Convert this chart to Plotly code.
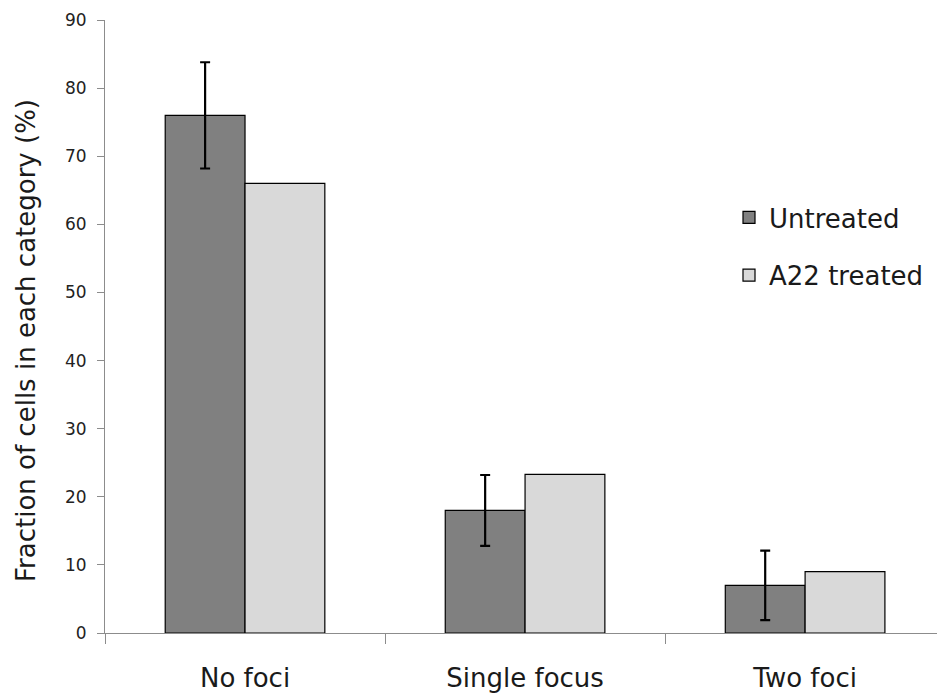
import plotly.graph_objects as go

categories = ["No foci", "Single focus", "Two foci"]
untreated = [76, 18, 7]
untreated_err = [7.8, 5.2, 5.1]
a22_treated = [66, 23.3, 9]
y_ticks = [0, 10, 20, 30, 40, 50, 60, 70, 80, 90]

FONT = "DejaVu Sans"
W, H = 937, 695
ML, MT, MB, MR = 105, 20, 62, 0

fig = go.Figure()
fig.add_trace(go.Bar(
    x=categories, y=untreated, name="Untreated",
    marker=dict(color="#808080", line=dict(color="#000000", width=1.2)),
    error_y=dict(type="data", array=untreated_err, visible=True,
                 color="#000000", thickness=2.2, width=5),
    legendgroup="u",
))
fig.add_trace(go.Bar(
    x=categories, y=a22_treated, name="A22 treated",
    marker=dict(color="#d9d9d9", line=dict(color="#000000", width=1.2)),
    legendgroup="a",
))

plot_w = W - ML - MR
plot_h = H - MT - MB
fig.update_layout(
    width=W, height=H,
    margin=dict(l=ML, r=MR, t=MT, b=MB, pad=0),
    paper_bgcolor="white", plot_bgcolor="white",
    barmode="group", bargap=0.43, bargroupgap=0,
    font=dict(family=FONT, color="#222222"),
    showlegend=True,
    legend=dict(
        x=(729 - ML) / plot_w, y=(H - MB - 194) / plot_h,
        xanchor="left", yanchor="top",
        font=dict(size=26, family=FONT, color="#1a1a1a"),
        tracegroupgap=21, itemwidth=30,
        bgcolor="rgba(0,0,0,0)",
    ),
    xaxis=dict(
        range=[-0.5, 2.471], showline=True, linecolor="#8c8c8c", linewidth=1,
        ticks="outside", ticklen=10, tickcolor="#8c8c8c", tickson="boundaries",
        ticklabelstandoff=22,
        tickfont=dict(size=26, family=FONT, color="#1a1a1a"),
        showgrid=False, zeroline=False, fixedrange=True,
    ),
    yaxis=dict(
        range=[0, 90], tickvals=y_ticks, showline=True, linecolor="#8c8c8c",
        linewidth=1, ticks="outside", ticklen=7, tickcolor="#8c8c8c",
        ticklabelstandoff=7,
        tickfont=dict(size=17, family=FONT, color="#222222"),
        showgrid=False, zeroline=False,
    ),
    annotations=[dict(
        text="Fraction of cells in each category (%)",
        xref="paper", yref="paper",
        x=(26 - ML) / plot_w, y=(H - MB - 341) / plot_h,
        xanchor="center", yanchor="middle",
        textangle=-90, showarrow=False,
        font=dict(size=26, family=FONT, color="#1a1a1a"),
    )],
)

fig.write_html("out.html")
